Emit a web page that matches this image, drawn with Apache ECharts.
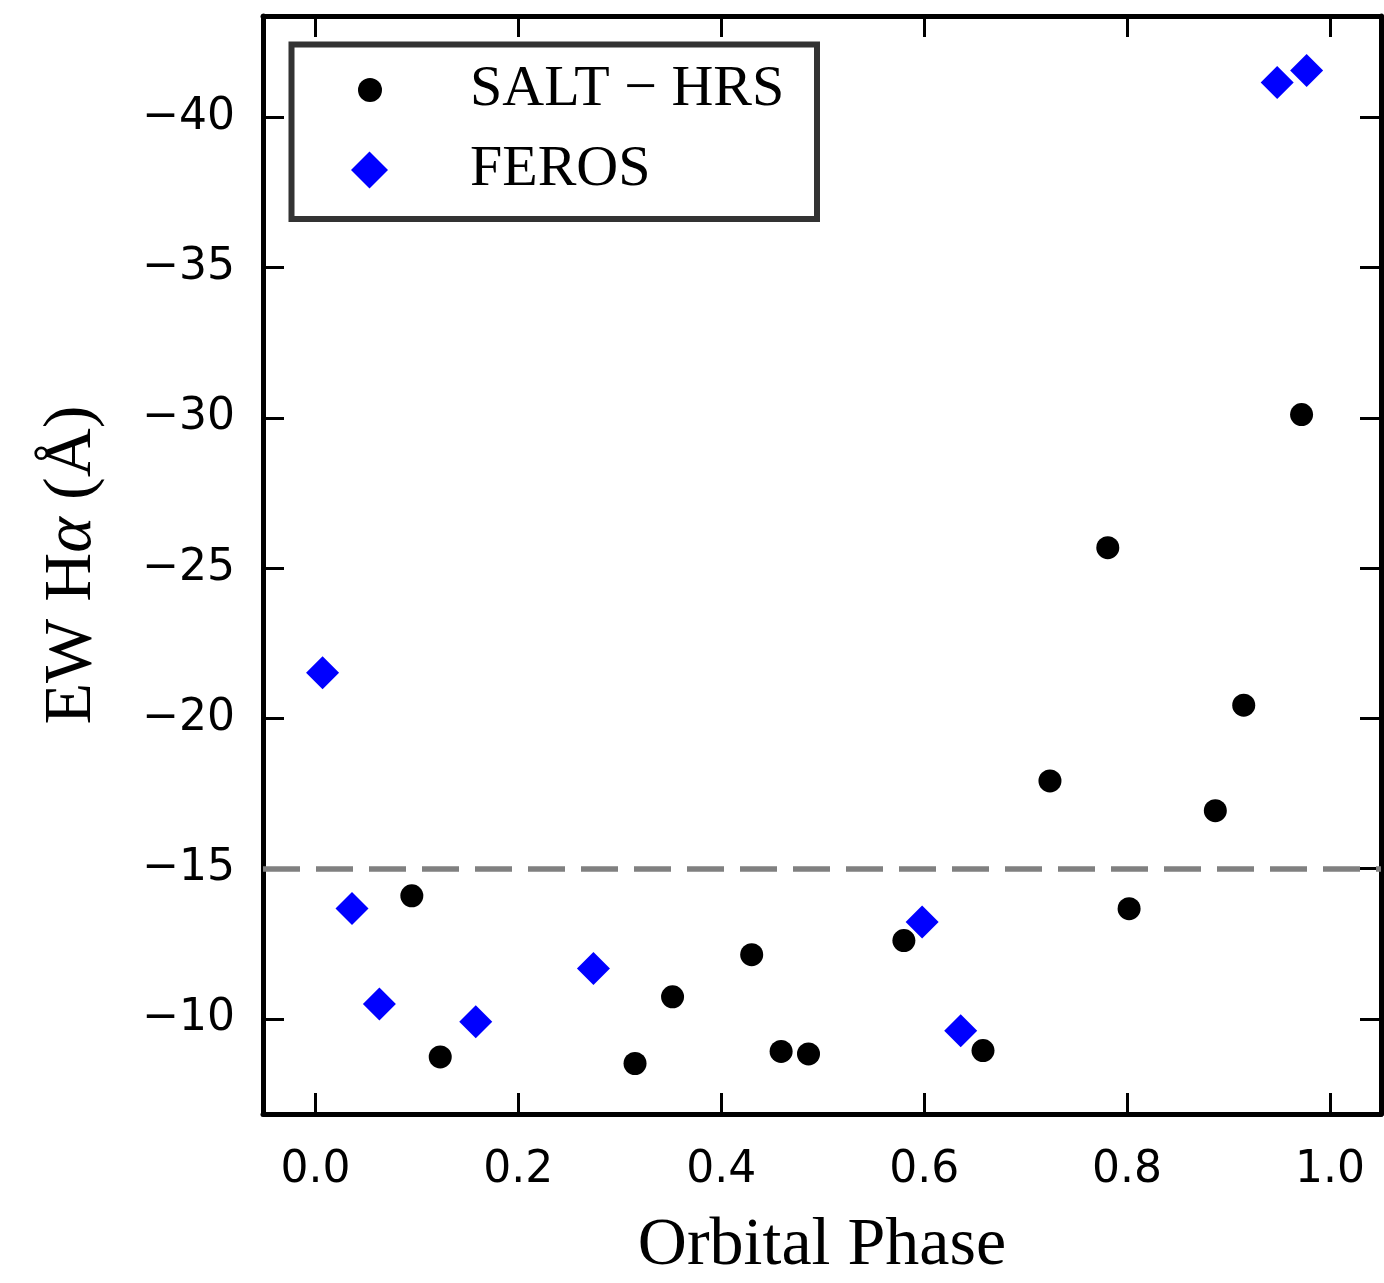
<!DOCTYPE html>
<html>
<head>
<meta charset="utf-8">
<script src="https://cdn.jsdelivr.net/npm/echarts@6/dist/echarts.min.js"></script>
<style>
  html, body { margin: 0; padding: 0; background: #fff; }
  #chart { width: 1384px; height: 1283px; }
</style>
</head>
<body>
<div id="chart"></div>
<script>
// SALT-HRS measurements
const saltPhase = [0.095, 0.123, 0.315, 0.352, 0.430, 0.459, 0.486, 0.580, 0.658, 0.724, 0.781, 0.802, 0.887, 0.915, 0.972];
const saltEW = [-14.10, -8.74, -8.52, -10.74, -12.14, -8.92, -8.84, -12.61, -8.95, -17.92, -25.68, -13.67, -16.93, -20.44, -30.11];

// FEROS measurements
const ferosPhase = [0.007, 0.036, 0.063, 0.158, 0.274, 0.598, 0.636, 0.948, 0.977];
const ferosEW = [-21.52, -13.68, -10.50, -9.91, -11.68, -13.23, -9.61, -41.16, -41.56];

const xTicks = [0.0, 0.2, 0.4, 0.6, 0.8, 1.0];
const yTicks = [-40, -35, -30, -25, -20, -15, -10];
const threshold = -15;

const X_MIN = -0.0517, X_MAX = 1.0503;
const Y_MIN = -43.37, Y_MAX = -6.84;

const zip = (a, b) => a.map((v, i) => [v, b[i]]);

const chart = echarts.init(document.getElementById('chart'), null, { renderer: 'canvas' });

const serif = '"Liberation Serif", "DejaVu Serif", serif';
const sans = '"DejaVu Sans", sans-serif';

const tickStyle = { show: true, inside: true, length: 21, lineStyle: { color: '#000', width: 3 } };
const spine = { show: true, onZero: false, lineStyle: { color: '#000', width: 5 } };

function baseX(extra) {
    return Object.assign({
        type: 'value', min: X_MIN, max: X_MAX,
        splitLine: { show: false },
        axisLine: spine,
        axisTick: Object.assign({ customValues: xTicks }, tickStyle)
    }, extra);
}
function baseY(extra) {
    return Object.assign({
        type: 'value', min: Y_MIN, max: Y_MAX, inverse: true,
        splitLine: { show: false },
        axisLine: spine,
        axisTick: Object.assign({ customValues: yTicks }, tickStyle)
    }, extra);
}

function legendText(pad) {
    return { fontFamily: serif, fontSize: 58, color: '#000', lineHeight: 60, padding: [0, 0, 0, pad] };
}

const option = {
    animation: false,
    backgroundColor: '#fff',
    grid: { left: 263, right: 3, top: 16, bottom: 169, outerBoundsMode: 'none' },
    xAxis: [
        baseX({
            position: 'bottom',
            name: 'Orbital Phase',
            nameLocation: 'middle',
            nameGap: 97,
            nameTextStyle: { fontFamily: serif, fontSize: 68, color: '#000', lineHeight: 70 },
            axisLabel: {
                customValues: xTicks, margin: 35,
                fontFamily: sans, fontSize: 44, color: '#000', lineHeight: 44,
                formatter: v => v.toFixed(1)
            }
        }),
        baseX({ position: 'top', axisLabel: { show: false } })
    ],
    yAxis: [
        baseY({
            position: 'left',
            name: '{n|EW H}{i|α}{n| (Å)}',
            nameLocation: 'middle',
            nameGap: 156,
            nameRotate: 90,
            nameTextStyle: {
                lineHeight: 70,
                rich: {
                    n: { fontFamily: serif, fontSize: 68, color: '#000', lineHeight: 70 },
                    i: { fontFamily: serif, fontSize: 68, fontStyle: 'italic', color: '#000', lineHeight: 70 }
                }
            },
            axisLabel: {
                customValues: yTicks, margin: 28,
                fontFamily: sans, fontSize: 44, color: '#000',
                formatter: v => String(v).replace('-', '\u2212')
            }
        }),
        baseY({ position: 'right', axisLabel: { show: false } })
    ],
    legend: [
        {
            data: ['SALT \u2212 HRS'], orient: 'vertical', padding: 0,
            left: 358, top: 60, itemWidth: 24, itemHeight: 24,
            textStyle: legendText(83), selectedMode: false
        },
        {
            data: ['FEROS'], orient: 'vertical', padding: 0,
            left: 351, top: 140, itemWidth: 37, itemHeight: 37,
            textStyle: legendText(77), selectedMode: false
        }
    ],
    graphic: [{
        type: 'rect', z: -1, silent: true,
        shape: { x: 291.5, y: 44.5, width: 525.5, height: 174.5 },
        style: { fill: '#fff', stroke: '#333', lineWidth: 6 }
    }],
    series: [
        {
            name: 'SALT \u2212 HRS', type: 'scatter',
            symbol: 'circle', symbolSize: 23,
            itemStyle: { color: '#000', opacity: 1 },
            data: zip(saltPhase, saltEW),
            markLine: {
                silent: true, symbol: 'none', label: { show: false },
                lineStyle: { color: '#808080', width: 5.5, type: [37, 16], opacity: 1 },
                data: [{ yAxis: threshold }]
            },
            z: 3
        },
        {
            name: 'FEROS', type: 'scatter',
            symbol: 'diamond', symbolSize: 33,
            itemStyle: { color: '#0000ff', opacity: 1 },
            data: zip(ferosPhase, ferosEW),
            z: 4
        }
    ]
};

chart.setOption(option);
</script>
</body>
</html>
